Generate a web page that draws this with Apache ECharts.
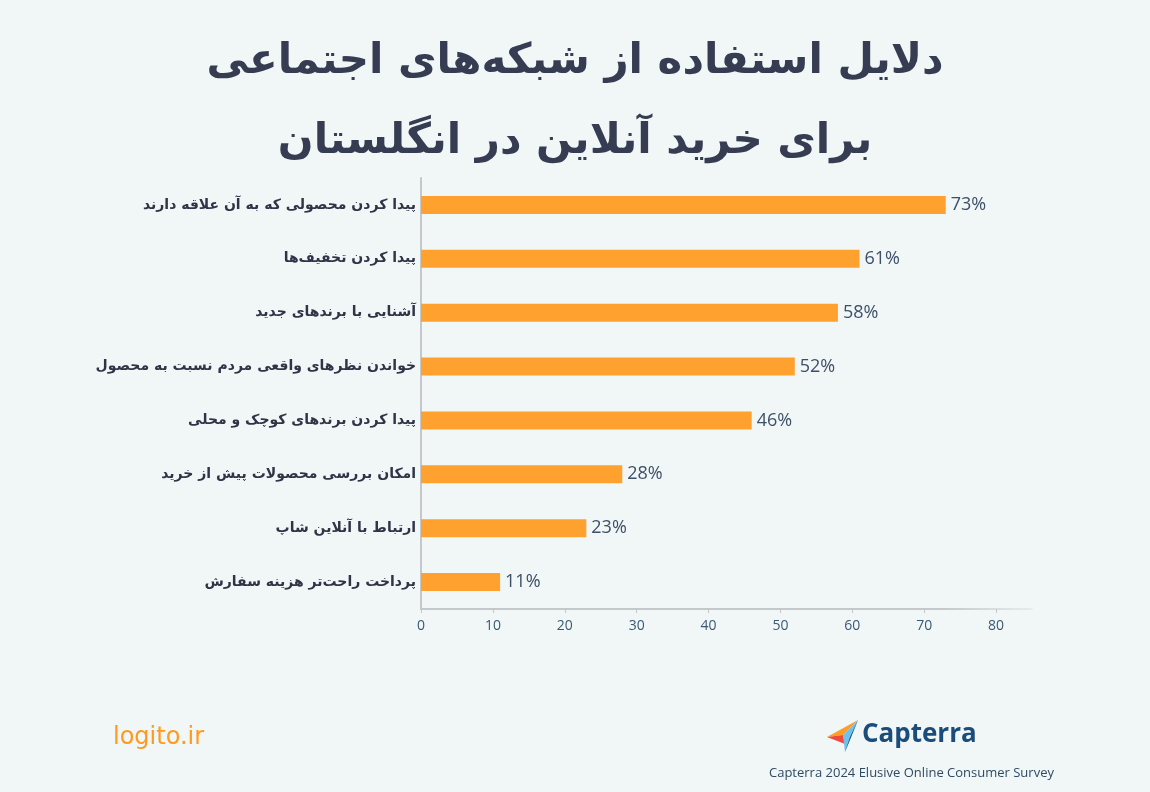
<!DOCTYPE html>
<html><head><meta charset="utf-8">
<script src="https://cdn.jsdelivr.net/npm/echarts@6/dist/echarts.min.js"></script>
<style>html,body{margin:0;padding:0;background:#f1f6f7;}#c{width:1150px;height:792px;}</style>
</head><body><div id="c"></div>
<script>
const categories = [
  'پیدا کردن محصولی که به آن علاقه دارند',
  'پیدا کردن تخفیف‌ها',
  'آشنایی با برندهای جدید',
  'خواندن نظرهای واقعی مردم نسبت به محصول',
  'پیدا کردن برندهای کوچک و محلی',
  'امکان بررسی محصولات پیش از خرید',
  'ارتباط با آنلاین شاپ',
  'پرداخت راحت‌تر هزینه سفارش'
];
const values = [73, 61, 58, 52, 46, 28, 23, 11];
const titleLines = ['دلایل استفاده از شبکه‌های اجتماعی', 'برای خرید آنلاین در انگلستان'];
const brand = 'logito.ir';
const sourceText = 'Capterra 2024 Elusive Online Consumer Survey';

const chart = echarts.init(document.getElementById('c'));
const arFont = '"DejaVu Sans", "Noto Sans", sans-serif';
chart.setOption({
  backgroundColor: '#f1f6f7',
  animation: false,
  title: [
    {text: titleLines[0], left: 'center', top: 36, textStyle: {fontFamily: arFont, fontWeight: 'bold', fontSize: 42, color: '#363d52'}},
    {text: titleLines[1], left: 'center', top: 116, textStyle: {fontFamily: arFont, fontWeight: 'bold', fontSize: 42, color: '#363d52'}}
  ],
  grid: {left: 421, top: 178, width: 611, height: 431, containLabel: false},
  xAxis: {
    type: 'value', min: 0, max: 85, interval: 10,
    axisLine: {show: true, lineStyle: {width: 2, color: new echarts.graphic.LinearGradient(0, 0, 1, 0, [
      {offset: 0, color: '#c4c8cb'}, {offset: 0.85, color: '#c4c8cb'}, {offset: 1, color: 'rgba(196,200,203,0.2)'}])}},
    axisTick: {show: true, length: 4, lineStyle: {color: '#c4c8cb'}},
    splitLine: {show: false},
    axisLabel: {showMaxLabel: false, color: '#3b5a72', fontSize: 14, fontFamily: '"Open Sans", sans-serif', margin: 10}
  },
  yAxis: {
    type: 'category', inverse: true, data: categories,
    axisLine: {show: true, lineStyle: {color: '#c4c8cb', width: 2}},
    axisTick: {show: false},
    axisLabel: {color: '#2f3447', fontSize: 14, fontWeight: 'bold', fontFamily: arFont, margin: 5}
  },
  series: [{
    type: 'bar', data: values, barWidth: 18,
    itemStyle: {color: '#ffa12e'},
    label: {show: true, position: 'right', distance: 5, formatter: '{c}%', color: '#3d5068', fontSize: 18, fontFamily: '"Open Sans", sans-serif'}
  }],
  graphic: [
    {type: 'text', left: 113, top: 726, style: {text: brand, fill: '#ff9a1f', fontSize: 24, fontFamily: '"DejaVu Sans", sans-serif', letterSpacing: 1}},
    {type: 'polygon', shape: {points: [[827, 737], [858, 720], [843, 735]]}, style: {fill: '#ff9d28'}},
    {type: 'polygon', shape: {points: [[827, 737], [843, 735], [845, 744]]}, style: {fill: '#ee4b3d'}},
    {type: 'polygon', shape: {points: [[858, 720], [843, 735], [845, 752]]}, style: {fill: '#6ec2ee'}},
    {type: 'polygon', shape: {points: [[858, 720], [850, 737], [845, 752]]}, style: {fill: '#1b4d7c'}},
    {type: 'text', left: 862, top: 722, style: {text: 'Capterra', fill: '#1b4d7c', fontSize: 26, fontWeight: 'bold', fontFamily: '"Open Sans", sans-serif'}},
    {type: 'text', left: 769, top: 767, style: {text: sourceText, fill: '#2f4a62', fontSize: 13, fontFamily: '"Open Sans", sans-serif'}}
  ]
});
</script></body></html>
